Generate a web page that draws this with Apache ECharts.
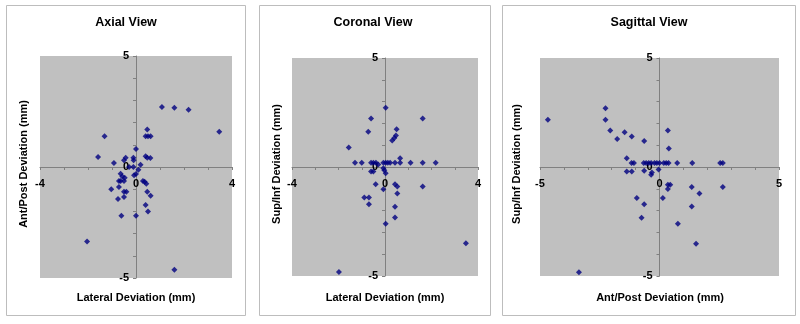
<!DOCTYPE html>
<html><head><meta charset="utf-8">
<script src="https://cdn.jsdelivr.net/npm/echarts@6/dist/echarts.min.js"></script>
<style>html,body{margin:0;padding:0;background:#fff}#c{width:800px;height:324px}</style>
</head><body><div id="c"></div>
<script>
// Panel titles and axis names
const panelTitles = ["Axial View", "Coronal View", "Sagittal View"];
const xNames = ["Lateral Deviation (mm)", "Lateral Deviation (mm)", "Ant/Post Deviation (mm)"];
const yNames = ["Ant/Post Deviation (mm)", "Sup/Inf Deviation (mm)", "Sup/Inf Deviation (mm)"];
const xRanges = [[-4, 4], [-4, 4], [-5, 5]];
const yRanges = [[-5, 5], [-5, 5], [-5, 5]];

// Axial view: lateral (x) vs ant/post (y)
const axialLateral = [1.08,1.6,2.19,3.47,-1.31,0.47,0.40,0.50,0.61,0,-1.58,0.40,0.47,0.60,-0.92,-0.50,-0.43,-0.11,-0.10,-0.29,-0.11,0.19,0.10,0,-0.08,-0.64,-0.57,-0.47,-0.71,-0.64,-0.50,0.29,0.36,0.43,-0.71,-1.03,-0.50,-0.40,0.47,0.61,-0.75,-0.50,0.40,0.50,-0.61,0,-2.04,1.6];
const axialAntPost = [2.7,2.67,2.58,1.59,1.38,1.69,1.38,1.38,1.38,0.81,0.45,0.48,0.42,0.40,0.18,0.30,0.42,0.42,0.30,0,0,0.10,-0.12,-0.31,-0.37,-0.30,-0.43,-0.48,-0.63,-0.63,-0.63,-0.63,-0.67,-0.75,-0.90,-1.0,-1.11,-1.11,-1.11,-1.30,-1.44,-1.35,-1.71,-2.0,-2.2,-2.2,-3.36,-4.63];

// Coronal view: lateral (x) vs sup/inf (y)
const coronalLateral = [-1.98,3.48,0.03,0.43,0.43,-0.69,-0.89,-0.69,0.53,1.62,0.43,0.53,-0.07,-0.40,0.03,-0.07,-0.03,-0.60,-0.50,0.65,-1.29,-1.0,-0.60,-0.50,-0.39,-0.07,0.03,0.12,0.22,0.43,0.65,1.10,1.62,2.18,-0.29,-1.56,-0.60,-0.72,0.03,1.62,0.50,0.47,0.40,0.31];
const coronalSupInf = [-4.82,-3.5,-2.6,-2.32,-1.82,-1.71,-1.40,-1.40,-1.21,-0.90,-0.79,-0.90,-1.02,-0.79,-0.29,-0.06,-0.15,-0.21,-0.21,0.40,0.2,0.2,0.2,0.2,0.2,0.2,0.2,0.2,0.2,0.2,0.2,0.2,0.2,0.2,0.12,0.89,2.23,1.62,2.72,2.23,1.73,1.45,1.33,1.21];

// Sagittal view: ant/post (x) vs sup/inf (y)
const sagittalAntPost = [-4.67,-2.26,-2.26,-2.06,-1.77,-1.46,-1.16,-0.64,0.35,0.39,-1.37,-1.17,-1.07,-0.66,-0.56,-0.45,-0.35,-0.21,-0.11,0,0.18,0.28,0.38,0.74,1.37,2.54,2.65,-1.37,-1.16,-0.64,-0.32,-0.35,-0.04,0.35,0.45,0.35,1.35,1.67,2.65,0.14,-0.95,-0.64,1.35,-0.75,0.77,1.53,-3.37];
const sagittalSupInf = [2.17,2.69,2.17,1.68,1.28,1.59,1.40,1.19,1.68,0.85,0.40,0.18,0.18,0.18,0.18,0.18,0.18,0.18,0.18,0.18,0.18,0.18,0.18,0.18,0.18,0.18,0.18,-0.21,-0.21,-0.17,-0.25,-0.35,-0.12,-0.81,-0.81,-1.01,-0.92,-1.21,-0.92,-1.42,-1.42,-1.71,-1.81,-2.33,-2.6,-3.52,-4.83];

const xs = [axialLateral, coronalLateral, sagittalAntPost];
const ys = [axialAntPost, coronalSupInf, sagittalSupInf];

// layout (styling only)
const panels = [{x:6,w:239},{x:259,w:231},{x:502,w:293}];
const grids = [{left:40,width:192,top:56,height:222},{left:292,width:186,top:58,height:218},{left:540,width:239,top:58,height:218}];
const titleCx = [126, 373, 649];
const xNameCx = [136, 385, 660];
const yNameCx = [24, 277, 517];

const FONT = '"Liberation Sans", Arial, sans-serif';
const chart = echarts.init(document.getElementById('c'), null, {renderer:'canvas'});

function mkAxis(range, which, g) {
  const showVals = [range[0], 0, range[1]];
  return {
    type:'value', min:range[0], max:range[1], interval:1,
    position: which === 'x' ? 'bottom' : 'left',
    offset: which === 'x' ? -g.height / 2 : -g.width / 2,
    splitLine:{show:false},
    axisLine:{onZero:false, lineStyle:{color:'#808080', width:1}},
    axisTick:{show:true, length:3, lineStyle:{color:'#808080'}},
    axisLabel:{
      color:'#000', fontFamily:FONT, fontWeight:'bold', fontSize:11,
      margin: which === 'x' ? 11 : 7,
      hideOverlap:false,
      formatter: v => showVals.indexOf(v) >= 0 ? String(v) : ''
    }
  };
}

const graphics = [];
panels.forEach((p,i) => {
  graphics.push({type:'rect', shape:{x:p.x+0.5,y:5.5,width:p.w,height:310}, style:{fill:'none', stroke:'#BDBDBD', lineWidth:1}, z:-10});
  graphics.push({type:'text', style:{text:panelTitles[i], x:titleCx[i], y:23, textAlign:'center', textVerticalAlign:'middle', font:'bold 12.5px ' + FONT, fill:'#000'}});
  graphics.push({type:'text', style:{text:xNames[i], x:xNameCx[i], y:298, textAlign:'center', textVerticalAlign:'middle', font:'bold 11px ' + FONT, fill:'#000'}});
  graphics.push({type:'text', x:yNameCx[i], y:164, rotation:Math.PI/2, style:{text:yNames[i], x:0, y:0, textAlign:'center', textVerticalAlign:'middle', font:'bold 11px ' + FONT, fill:'#000'}});
});

chart.setOption({
  animation:false,
  backgroundColor:'#fff',
  grid: grids.map(g => Object.assign({show:true, backgroundColor:'#C0C0C0', borderWidth:0}, g)),
  xAxis: xRanges.map((r,i) => Object.assign(mkAxis(r,'x',grids[i]), {gridIndex:i})),
  yAxis: yRanges.map((r,i) => Object.assign(mkAxis(r,'y',grids[i]), {gridIndex:i})),
  series: xs.map((xv,i) => ({
    type:'scatter', xAxisIndex:i, yAxisIndex:i,
    symbol:'diamond', symbolSize:6,
    itemStyle:{color:'#000080'},
    data: xv.map((x,k) => [x, ys[i][k]])
  })),
  graphic: graphics
});
</script></body></html>
